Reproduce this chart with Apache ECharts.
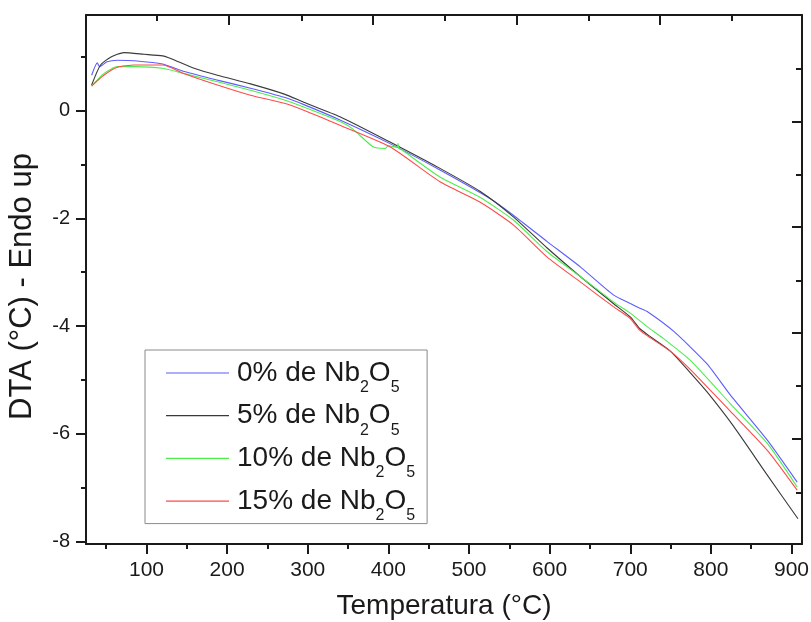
<!DOCTYPE html>
<html>
<head>
<meta charset="utf-8">
<script src="https://cdn.jsdelivr.net/npm/echarts@6/dist/echarts.min.js"></script>
<style>html,body{margin:0;padding:0;background:#fff}#c{width:811px;height:622px}</style>
</head>
<body>
<div id="c"></div>
<script>
// ---- data ----
const seriesLabels = ['0%', '5%', '10%', '15%'];
const seriesColors = ['#5c5cff', '#3a3a3a', '#4cee4c', '#ff4a4a'];

const temp0 = [32, 39, 42, 51, 64, 85, 120, 147, 188, 229, 271, 296, 340, 402, 464, 526, 555, 597, 638, 679, 700, 712, 721, 754, 795, 824, 870, 907];
const dta0  = [0.66, 0.89, 0.82, 0.91, 0.94, 0.93, 0.87, 0.73, 0.57, 0.42, 0.25, 0.11, -0.17, -0.61, -1.10, -1.63, -1.94, -2.43, -2.90, -3.42, -3.58, -3.67, -3.73, -4.10, -4.70, -5.28, -6.12, -6.90];

const temp5 = [32, 43, 56, 72, 97, 120, 130, 159, 188, 229, 271, 295, 340, 402, 464, 514, 555, 597, 638, 679, 700, 712, 725, 750, 774, 795, 828, 870, 908];
const dta5  = [0.48, 0.85, 1.00, 1.08, 1.05, 1.02, 0.97, 0.79, 0.66, 0.50, 0.31, 0.16, -0.11, -0.58, -1.07, -1.50, -1.97, -2.55, -3.08, -3.58, -3.83, -4.05, -4.20, -4.47, -4.86, -5.22, -5.86, -6.77, -7.58];

const temp10 = [32, 47, 64, 85, 120, 147, 188, 229, 271, 295, 340, 356, 381, 396, 400, 411, 412, 413, 417, 464, 514, 555, 597, 638, 679, 700, 721, 741, 774, 824, 870, 907];
const dta10  = [0.46, 0.69, 0.82, 0.82, 0.79, 0.69, 0.54, 0.38, 0.20, 0.07, -0.20, -0.34, -0.67, -0.70, -0.65, -0.68, -0.61, -0.70, -0.73, -1.23, -1.61, -2.03, -2.62, -3.08, -3.55, -3.76, -4.01, -4.23, -4.63, -5.44, -6.18, -6.99];

const temp15 = [32, 47, 64, 85, 120, 147, 188, 229, 271, 295, 340, 402, 464, 514, 555, 597, 638, 679, 700, 712, 725, 750, 774, 824, 870, 907];
const dta15  = [0.46, 0.66, 0.81, 0.85, 0.85, 0.69, 0.48, 0.29, 0.14, 0.01, -0.27, -0.67, -1.32, -1.70, -2.12, -2.72, -3.18, -3.64, -3.86, -4.08, -4.22, -4.47, -4.80, -5.58, -6.31, -7.05];

// axis ticks / labels
const xMajorTicks = [100, 200, 300, 400, 500, 600, 700, 800, 900];
const xMinorTicks = [50, 150, 250, 350, 450, 550, 650, 750, 850];
const topMajorTicks = [202, 381, 559, 737];
const topMinorTicks = [113, 292, 470, 648, 826];
const yMajorTicks = [-8, -6, -4, -2, 0];
const yMinorTicks = [-7, -5, -3, -1, 1];
const rightMajorTicks = [-0.21, -2.16, -4.13, -6.10];
const rightMinorTicks = [0.775, -1.18, -3.15, -5.11, -7.09];

const xTitle = 'Temperatura (°C)';
const yTitle = 'DTA (°C) - Endo up';

// ---- chart ----
const FONT = '"Liberation Sans", Arial, sans-serif';
const INK = '#1a1a1a';
const temps = [temp0, temp5, temp10, temp15];
const vals = [dta0, dta5, dta10, dta15];

const xRange = {min: 25, max: 913};
const yRange = {min: -8.05, max: 1.78};

function hiddenAxis(extra) {
  return Object.assign({
    type: 'value', gridIndex: 0,
    splitLine: {show: false},
    axisLine: {show: false, onZero: false},
    axisLabel: {show: false},
    axisTick: {show: false}
  }, extra);
}
const lineStyle = {color: INK, width: 2};
const tickStyle = {color: INK, width: 2};

const option = {
  animation: false,
  backgroundColor: '#fff',
  textStyle: {fontFamily: FONT},
  grid: {left: 86, top: 15, right: 9, bottom: 78, outerBoundsMode: 'none'},
  xAxis: [
    hiddenAxis(Object.assign({position: 'bottom',
      axisLine: {show: true, onZero: false, lineStyle},
      axisTick: {show: true, length: 10, lineStyle: tickStyle, customValues: xMajorTicks},
      axisLabel: {show: true, customValues: xMajorTicks, fontSize: 21, margin: 16, color: INK, fontFamily: FONT},
      name: xTitle, nameLocation: 'middle', nameGap: 48,
      nameTextStyle: {fontSize: 28, color: INK, fontFamily: FONT}
    }, xRange)),
    hiddenAxis(Object.assign({position: 'bottom',
      axisTick: {show: true, length: 5, lineStyle: tickStyle, customValues: xMinorTicks}
    }, xRange)),
    hiddenAxis(Object.assign({position: 'top',
      axisLine: {show: true, onZero: false, lineStyle},
      axisTick: {show: true, inside: true, length: 10, lineStyle: tickStyle, customValues: topMajorTicks}
    }, xRange)),
    hiddenAxis(Object.assign({position: 'top',
      axisTick: {show: true, inside: true, length: 6, lineStyle: tickStyle, customValues: topMinorTicks}
    }, xRange))
  ],
  yAxis: [
    hiddenAxis(Object.assign({position: 'left',
      axisLine: {show: true, onZero: false, lineStyle},
      axisTick: {show: true, length: 10, lineStyle: tickStyle, customValues: yMajorTicks},
      axisLabel: {show: true, customValues: yMajorTicks, fontSize: 20, margin: 16, color: INK, fontFamily: FONT},
      name: yTitle, nameLocation: 'middle', nameGap: 48,
      nameTextStyle: {fontSize: 31, color: INK, fontFamily: FONT, padding: [0, 14, 0, 0]}
    }, yRange)),
    hiddenAxis(Object.assign({position: 'left',
      axisTick: {show: true, length: 5, lineStyle: tickStyle, customValues: yMinorTicks}
    }, yRange)),
    hiddenAxis(Object.assign({position: 'right',
      axisLine: {show: true, onZero: false, lineStyle},
      axisTick: {show: true, inside: true, length: 10, lineStyle: tickStyle, customValues: rightMajorTicks}
    }, yRange)),
    hiddenAxis(Object.assign({position: 'right',
      axisTick: {show: true, inside: true, length: 6, lineStyle: tickStyle, customValues: rightMinorTicks}
    }, yRange))
  ],
  legend: {
    orient: 'vertical', left: 145, top: 350,
    padding: [8, 12, 0, 21],
    itemGap: 5.2, itemWidth: 63, itemHeight: 1.2,
    icon: 'rect',
    borderColor: '#8a8a8a', borderWidth: 1, backgroundColor: '#fff',
    formatter: function (name) {
      const pct = name.split(' ')[0];
      return '{p|' + pct + ' de Nb}{s|2}{a|O}{s|5}';
    },
    textStyle: {
      color: INK, fontFamily: FONT,
      rich: {
        p: {fontSize: 28, lineHeight: 30, padding: [0, 0, 0, 3], verticalAlign: 'middle', color: INK, fontFamily: FONT},
        a: {fontSize: 28, lineHeight: 30, verticalAlign: 'middle', color: INK, fontFamily: FONT},
        s: {fontSize: 16, lineHeight: 10, padding: [21.5, 0, 0, 0], verticalAlign: 'top', color: INK, fontFamily: FONT}
      }
    }
  },
  series: seriesLabels.map(function (lab, i) {
    return {
      name: lab + ' de Nb2O5',
      type: 'line',
      xAxisIndex: 0, yAxisIndex: 0,
      symbol: 'none', smooth: 0.2,
      color: seriesColors[i],
      lineStyle: {width: 1.1, color: seriesColors[i]},
      data: temps[i].map(function (t, j) { return [t, vals[i][j]]; })
    };
  })
};

const chart = echarts.init(document.getElementById('c'), null, {renderer: 'canvas'});
chart.setOption(option);
</script>
</body>
</html>
